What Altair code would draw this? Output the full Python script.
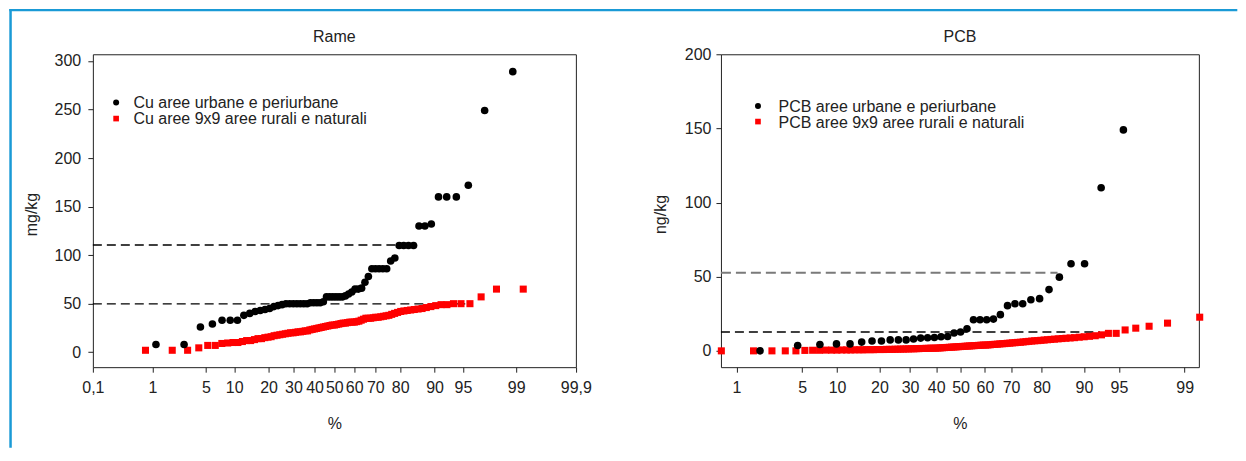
import math
import altair as alt
import pandas as pd

FONT = "Liberation Sans"
TXT = "#222222"

# ---------------- data ----------------
CU_URBAN_LABEL = "Cu aree urbane e periurbane"
CU_RURAL_LABEL = "Cu aree 9x9 aree rurali e naturali"
PCB_URBAN_LABEL = "PCB aree urbane e periurbane"
PCB_RURAL_LABEL = "PCB aree 9x9 aree rurali e naturali"
TITLE_LEFT = "Rame"
TITLE_RIGHT = "PCB"

# sorted sample values (mg/kg)
cu_urban = [8, 8, 26, 29, 33, 33, 33, 38, 40, 42, 43, 44, 45, 47, 48, 49,
            50, 50, 50, 50, 50, 50, 50, 51, 51, 51, 51, 52,
            57, 57, 57, 57, 57, 57, 58, 60, 62, 65, 65, 66, 72, 78,
            86, 86, 86, 86, 86, 94, 97, 110, 110, 110, 110,
            130, 130, 132, 160, 160, 160, 172, 249, 289]
cu_rural = [2, 2, 2, 4.5, 7, 7, 9, 9.5, 10, 10,
            11, 12, 12, 13, 14, 14, 15, 15.5, 16, 17,
            17.5, 18, 18.5, 19, 19.5, 20, 20, 20.5, 21, 21,
            21.5, 22, 22, 23, 23.5, 24, 24.5, 25, 25.5, 26,
            26.5, 27, 27.5, 28, 28, 28.5, 29, 29.5, 30, 30,
            30.5, 31, 31, 31, 31.5, 32, 33, 34, 35, 35,
            35, 35.5, 36, 36, 36.5, 37, 37.5, 38, 39, 40,
            41, 42, 42.5, 43, 43.5, 44, 44.5, 45, 46, 47,
            48, 49, 49, 50, 50, 50, 57, 65, 65]
# sorted sample values (ng/kg); one urban value lies above the 200 axis limit
pcb_urban = [0, 3.6, 4.3, 4.7, 4.7, 5.9, 6.6, 6.6, 7.4, 7.4, 7.4, 8.0,
             8.6, 8.8, 9.0, 9.5, 9.7, 12.0, 12.7, 14.9, 21.0, 21.0, 21.0, 21.4,
             24.4, 30.5, 31.8, 31.8, 34.5, 35.2, 41.3, 49.7, 58.7, 58.7, 110, 149]
pcb_rural = [0, 0, 0, 0, 0,
             0.3, 0.4, 0.4, 0.5, 0.5, 0.5, 0.6, 0.6, 0.6, 0.7,
             0.7, 0.7, 0.8, 0.8, 0.8, 0.9, 0.9, 0.9, 1.0, 1.0,
             1.0, 1.1, 1.1, 1.2, 1.2, 1.3, 1.3, 1.4, 1.4, 1.5,
             1.5, 1.6, 1.6, 1.7, 1.7, 1.8, 1.8, 1.8,
             1.9, 2.0, 2.1, 2.2, 2.3, 2.4, 2.5, 2.6, 2.7, 2.8,
             2.9, 3.0, 3.1, 3.2, 3.3, 3.4, 3.5, 3.6, 3.7, 3.8, 3.9, 3.9,
             4.0, 4.1, 4.3, 4.4, 4.5, 4.7, 4.8, 4.9, 5.1, 5.2,
             5.4, 5.5, 5.7, 5.8, 6.0, 6.2, 6.4, 6.6, 6.8, 6.9,
             7.1, 7.3, 7.5, 7.7, 7.9, 8.1, 8.3, 8.5, 8.7, 8.9,
             9.2, 9.5, 9.8, 10.2, 10.8,
             11.8, 11.8, 14.1, 15.3, 16.6, 18.7, 22.7]
# sample sizes used for the plotting positions
n_cu_urban, n_cu_rural, n_pcb_urban, n_pcb_rural = 62, 89, 37, 107

# reference (dashed) lines: level and percentile where the line stops
cu_ref_levels = [110.5, 49.8]
cu_ref_end_pct = [78.5, 95.9]
pcb_ref_upper = (52.6, 84.3)
pcb_ref_lower = (12.7, 92.6)

# axis ticks
left_tick_pct = [0.1, 1, 5, 10, 20, 30, 40, 50, 60, 70, 80, 90, 95, 99, 99.9]
left_tick_lbl = ["0,1", "1", "5", "10", "20", "30", "40", "50", "60", "70", "80", "90", "95", "99", "99,9"]
right_tick_pct = [1, 5, 10, 20, 30, 40, 50, 60, 70, 80, 90, 95, 99]
right_tick_lbl = ["1", "5", "10", "20", "30", "40", "50", "60", "70", "80", "90", "95", "99"]
left_y_ticks = [0, 50, 100, 150, 200, 250, 300]
right_y_ticks = [0, 50, 100, 150, 200]


def probit(p):
    lo, hi = -10.0, 10.0
    for _ in range(200):
        mid = (lo + hi) / 2
        if 0.5 * (1 + math.erf(mid / math.sqrt(2))) < p:
            lo = mid
        else:
            hi = mid
    return (lo + hi) / 2


def label_expr(pcts, labels):
    pairs = ", ".join("'%.1f': '%s'" % (p, l) for p, l in zip(pcts, labels))
    return "{" + pairs + "}[format(cumulativeNormal(datum.value) * 100, '.1f')]"


LW, LH = 483.8, 313.4
RW, RH = 478.7, 313.4
L_XDOM = [probit(0.001), probit(0.999)]
R_XDOM = [-2.487, 2.474]
L_YDOM = [-15.4, 306.9]
R_YDOM = [-11.0, 200]


def xaxis(pcts, labels):
    return alt.Axis(values=[probit(p / 100.0) for p in pcts], labelExpr=label_expr(pcts, labels),
                    ticks=True, tickSize=5, labelPadding=7, labelFlush=False, labelOverlap=False,
                    titleY=56.5, titleBaseline="middle")


def yaxis(vals, pad, tx, ty):
    return alt.Axis(values=vals, ticks=True, tickSize=5, labelPadding=pad, labelFlush=False, labelOverlap=False,
                    titleX=tx, titleY=ty, titleBaseline="middle", titleAngle=-90, titleAlign="center")


def points(values, n, xdom, ydom, xax, yax, ytitle, color, shape, size):
    df = pd.DataFrame({"value": values, "n": [n] * len(values)})
    return alt.Chart(df).transform_window(
        rank="row_number()", sort=[alt.SortField("value", order="ascending")]
    ).transform_calculate(
        z="quantileNormal((datum.rank - 0.3) / (datum.n + 0.4))"
    ).mark_point(filled=True, shape=shape, size=size, color=color, opacity=1, strokeWidth=0).encode(
        x=alt.X("z:Q", title="%", scale=alt.Scale(domain=xdom, nice=False, zero=False), axis=xax),
        y=alt.Y("value:Q", title=ytitle, scale=alt.Scale(domain=ydom, nice=False, zero=False), axis=yax),
    )


def ref_lines(levels, ends, xdom, ydom, xax, yax, ytitle, color, width, dash):
    df = pd.DataFrame({"value": levels, "end_pct": ends})
    return alt.Chart(df).transform_calculate(
        z="%f" % xdom[0], z2="quantileNormal(datum.end_pct / 100)"
    ).mark_rule(color=color, strokeWidth=width, strokeDash=dash).encode(
        x=alt.X("z:Q", title="%", scale=alt.Scale(domain=xdom, nice=False, zero=False), axis=xax),
        x2="z2:Q",
        y=alt.Y("value:Q", title=ytitle, scale=alt.Scale(domain=ydom, nice=False, zero=False), axis=yax),
    )


def legend(labels, sym_x, sym_y, txt_x, txt_y):
    layers = []
    for lab, sx, sy, ty, col, shp, sz in zip(labels, sym_x, sym_y, txt_y, ["#000000", "#ff0000"],
                                             ["circle", "square"], [36, 32]):
        d = pd.DataFrame({"label": [lab]})
        layers.append(alt.Chart(d).mark_point(filled=True, shape=shp, size=sz, color=col, opacity=1, strokeWidth=0)
                      .encode(x=alt.value(sx), y=alt.value(sy)))
        layers.append(alt.Chart(d).mark_text(align="left", baseline="alphabetic", font=FONT, fontSize=16, color=TXT)
                      .encode(text="label:N", x=alt.value(txt_x), y=alt.value(ty)))
    return layers


def panel_title(text, width):
    d = pd.DataFrame({"title": [text]})
    return alt.Chart(d).mark_text(align="center", baseline="alphabetic", font=FONT, fontSize=16, color=TXT).encode(
        text="title:N", x=alt.value(width / 2), y=alt.value(-12.0))


# ---------------- left panel: Rame ----------------
lx = xaxis(left_tick_pct, left_tick_lbl)
ly = yaxis(left_y_ticks, 7.2, -61, 160)
left_ref = ref_lines(cu_ref_levels, cu_ref_end_pct, L_XDOM, L_YDOM, lx, ly, "mg/kg", "#000000", 1.4, [9, 5])
left_red = points(cu_rural, n_cu_rural, L_XDOM, L_YDOM, lx, ly, "mg/kg", "#ff0000", "square", 50)
left_blk = points(cu_urban, n_cu_urban, L_XDOM, L_YDOM, lx, ly, "mg/kg", "#000000", "circle", 58)

deco = pd.DataFrame({"k": [1]})
blue = "#1a9ad6"
deco_top = alt.Chart(deco).mark_rect(color=blue).encode(
    x=alt.value(-83.7), x2=alt.value(1146.3), y=alt.value(-45.3), y2=alt.value(-43.0))
deco_left = alt.Chart(deco).mark_rect(color=blue).encode(
    x=alt.value(-83.7), x2=alt.value(-81.2), y=alt.value(-45.3), y2=alt.value(394))

left = alt.layer(
    deco_top, deco_left, left_ref, left_red, left_blk, panel_title(TITLE_LEFT, LW),
    *legend([CU_URBAN_LABEL, CU_RURAL_LABEL], [23.3, 23.3], [48.4, 64.4], 40.6, [54.0, 70.0])
).properties(width=LW, height=LH)

# ---------------- right panel: PCB ----------------
rx = xaxis(right_tick_pct, right_tick_lbl)
ry = yaxis(right_y_ticks, 5, -60.6, 160)
right_ref_up = ref_lines([pcb_ref_upper[0]], [pcb_ref_upper[1]], R_XDOM, R_YDOM, rx, ry, "ng/kg", "#7a7a7a", 2, [10, 5])
right_ref_lo = ref_lines([pcb_ref_lower[0]], [pcb_ref_lower[1]], R_XDOM, R_YDOM, rx, ry, "ng/kg", "#000000", 1.4, [9, 5])
right_red = points(pcb_rural, n_pcb_rural, R_XDOM, R_YDOM, rx, ry, "ng/kg", "#ff0000", "square", 50)
right_blk = points(pcb_urban, n_pcb_urban, R_XDOM, R_YDOM, rx, ry, "ng/kg", "#000000", "circle", 58)

right = alt.layer(
    right_ref_up, right_ref_lo, right_red, right_blk, panel_title(TITLE_RIGHT, RW),
    *legend([PCB_URBAN_LABEL, PCB_RURAL_LABEL], [37.1, 37.1], [51.7, 67.4], 57.7, [57.7, 74.0])
).properties(width=RW, height=RH)

chart = alt.hconcat(left, right, spacing=145.1, bounds="flush").properties(
    padding=0
).configure_axis(
    labelFont=FONT, titleFont=FONT, labelFontSize=16, titleFontSize=16,
    labelColor=TXT, titleColor=TXT, tickColor=TXT, tickWidth=1, grid=False, domain=False,
    titleFontWeight="normal", labelOverlap=False,
).configure_view(stroke=TXT, strokeWidth=1)

chart.save("out.html", embed_options={"renderer": "svg", "actions": False})
